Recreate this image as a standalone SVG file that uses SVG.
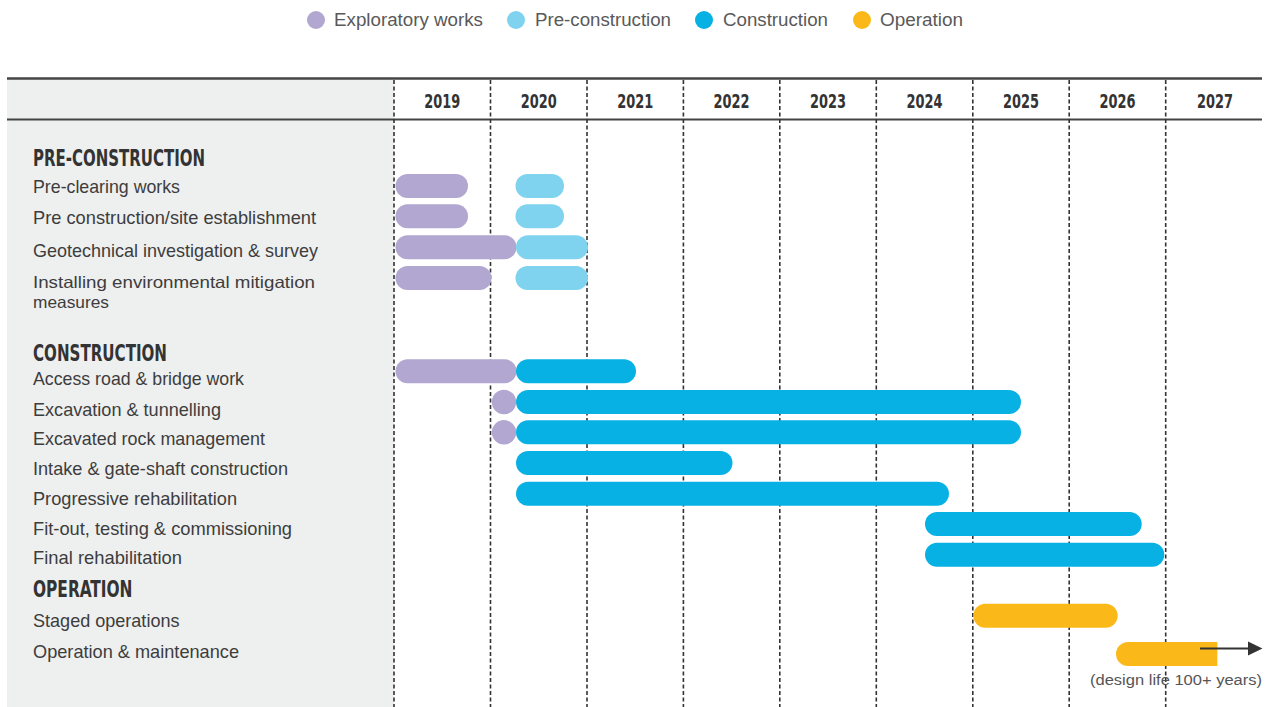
<svg xmlns="http://www.w3.org/2000/svg" width="1266" height="707" viewBox="0 0 1266 707">
<style>
.lg{font-family:"Liberation Sans",Arial,sans-serif;font-size:17.5px;fill:#595959}
.yr{font-family:"Liberation Sans Narrow","DejaVu Sans Condensed","Liberation Sans",sans-serif;font-weight:bold;font-size:20px;fill:#333;text-anchor:middle}
.hd{font-family:"Liberation Sans Narrow","DejaVu Sans Condensed","Liberation Sans",sans-serif;font-weight:bold;font-size:22.5px;fill:#333}
.lb{font-family:"Liberation Sans",Arial,sans-serif;font-size:18.5px;fill:#3d3d3d}
.lb2{font-family:"Liberation Sans",Arial,sans-serif;font-size:16.5px;fill:#3d3d3d}
.note{font-family:"Liberation Sans",Arial,sans-serif;font-size:15.5px;fill:#555}
.grid{stroke:#333;stroke-width:1.6;stroke-dasharray:4 2.5;fill:none}
.ex{fill:#b1a7d1}
.pc{fill:#7fd3ee}
.co{fill:#08b1e3}
.op{fill:#fbb919}
</style>
<rect width="1266" height="707" fill="#ffffff"/>
<g id="legend">
<circle cx="316" cy="20" r="9" class="ex"/>
<text class="lg" x="334" y="26" textLength="149" lengthAdjust="spacingAndGlyphs">Exploratory works</text>
<circle cx="516" cy="20" r="9" class="pc"/>
<text class="lg" x="535" y="26" textLength="136" lengthAdjust="spacingAndGlyphs">Pre-construction</text>
<circle cx="704" cy="20" r="9" class="co"/>
<text class="lg" x="723" y="26" textLength="105" lengthAdjust="spacingAndGlyphs">Construction</text>
<circle cx="862" cy="20" r="9" class="op"/>
<text class="lg" x="880" y="26" textLength="83" lengthAdjust="spacingAndGlyphs">Operation</text>
</g>
<g id="panel">
<rect x="7" y="78" width="387" height="629" fill="#eeefef"/>
<line x1="7" y1="78.5" x2="1262" y2="78.5" stroke="#444" stroke-width="2.5"/>
<line x1="7" y1="119.5" x2="1262" y2="119.5" stroke="#444" stroke-width="2"/>
</g>
<g id="grid">
<line class="grid" x1="394" y1="80" x2="394" y2="707"/>
<line class="grid" x1="490.5" y1="80" x2="490.5" y2="707"/>
<line class="grid" x1="587" y1="80" x2="587" y2="707"/>
<line class="grid" x1="683.4" y1="80" x2="683.4" y2="707"/>
<line class="grid" x1="779.8" y1="80" x2="779.8" y2="707"/>
<line class="grid" x1="876.3" y1="80" x2="876.3" y2="707"/>
<line class="grid" x1="972.8" y1="80" x2="972.8" y2="707"/>
<line class="grid" x1="1069.2" y1="80" x2="1069.2" y2="707"/>
<line class="grid" x1="1165.7" y1="80" x2="1165.7" y2="707"/>
</g>
<g id="years">
<text class="yr" x="442.3" y="107.5" textLength="36" lengthAdjust="spacingAndGlyphs">2019</text>
<text class="yr" x="538.8" y="107.5" textLength="36" lengthAdjust="spacingAndGlyphs">2020</text>
<text class="yr" x="635.2" y="107.5" textLength="36" lengthAdjust="spacingAndGlyphs">2021</text>
<text class="yr" x="731.6" y="107.5" textLength="36" lengthAdjust="spacingAndGlyphs">2022</text>
<text class="yr" x="828" y="107.5" textLength="36" lengthAdjust="spacingAndGlyphs">2023</text>
<text class="yr" x="924.5" y="107.5" textLength="36" lengthAdjust="spacingAndGlyphs">2024</text>
<text class="yr" x="1021" y="107.5" textLength="36" lengthAdjust="spacingAndGlyphs">2025</text>
<text class="yr" x="1117.4" y="107.5" textLength="36" lengthAdjust="spacingAndGlyphs">2026</text>
<text class="yr" x="1215" y="107.5" textLength="36" lengthAdjust="spacingAndGlyphs">2027</text>
</g>
<g id="sec-pre"><text class="hd" x="33" y="165.7" textLength="172" lengthAdjust="spacingAndGlyphs">PRE-CONSTRUCTION</text></g>
<g id="row-preclearing">
<text class="lb" x="33" y="192.7" textLength="147" lengthAdjust="spacingAndGlyphs">Pre-clearing works</text>
<rect class="ex" x="395.5" y="174" width="72.5" height="24" rx="12"/>
<rect class="pc" x="515.5" y="174" width="48.5" height="24" rx="12"/>
</g>
<g id="row-site">
<text class="lb" x="33" y="224.3" textLength="283" lengthAdjust="spacingAndGlyphs">Pre construction/site establishment</text>
<rect class="ex" x="395.5" y="204.3" width="72.5" height="24" rx="12"/>
<rect class="pc" x="515.5" y="204.3" width="48.5" height="24" rx="12"/>
</g>
<g id="row-geotech">
<text class="lb" x="33" y="257.3" textLength="285" lengthAdjust="spacingAndGlyphs">Geotechnical investigation &amp; survey</text>
<rect class="ex" x="395.5" y="235.3" width="121" height="24" rx="12"/>
<rect class="pc" x="516" y="235.3" width="72" height="24" rx="12"/>
</g>
<g id="row-mitigation">
<text class="lb2" x="33" y="288" textLength="282" lengthAdjust="spacingAndGlyphs">Installing environmental mitigation</text>
<text class="lb2" x="33" y="307.5" textLength="76" lengthAdjust="spacingAndGlyphs">measures</text>
<rect class="ex" x="395.5" y="266" width="96" height="24" rx="12"/>
<rect class="pc" x="515.5" y="266" width="72.5" height="24" rx="12"/>
</g>
<g id="sec-con"><text class="hd" x="33" y="361" textLength="134" lengthAdjust="spacingAndGlyphs">CONSTRUCTION</text></g>
<g id="row-access">
<text class="lb" x="33" y="385" textLength="211" lengthAdjust="spacingAndGlyphs">Access road &amp; bridge work</text>
<rect class="ex" x="395.5" y="359.3" width="121" height="24" rx="12"/>
<rect class="co" x="516" y="359.3" width="120" height="24" rx="12"/>
</g>
<g id="row-excavation">
<text class="lb" x="33" y="415.5" textLength="188" lengthAdjust="spacingAndGlyphs">Excavation &amp; tunnelling</text>
<circle class="ex" cx="504" cy="402" r="12.2"/>
<rect class="co" x="516" y="390" width="505" height="24" rx="12"/>
</g>
<g id="row-rock">
<text class="lb" x="33" y="445" textLength="232" lengthAdjust="spacingAndGlyphs">Excavated rock management</text>
<circle class="ex" cx="504" cy="432.3" r="12.2"/>
<rect class="co" x="516" y="420.3" width="505" height="24" rx="12"/>
</g>
<g id="row-intake">
<text class="lb" x="33" y="475" textLength="255" lengthAdjust="spacingAndGlyphs">Intake &amp; gate-shaft construction</text>
<rect class="co" x="516" y="451" width="216.5" height="24" rx="12"/>
</g>
<g id="row-progressive">
<text class="lb" x="33" y="505" textLength="204" lengthAdjust="spacingAndGlyphs">Progressive rehabilitation</text>
<rect class="co" x="516" y="481.7" width="433" height="24" rx="12"/>
</g>
<g id="row-fitout">
<text class="lb" x="33" y="535" textLength="259" lengthAdjust="spacingAndGlyphs">Fit-out, testing &amp; commissioning</text>
<rect class="co" x="925" y="512" width="216.7" height="24" rx="12"/>
</g>
<g id="row-final">
<text class="lb" x="33" y="564.3" textLength="149" lengthAdjust="spacingAndGlyphs">Final rehabilitation</text>
<rect class="co" x="925" y="542.7" width="239.3" height="24" rx="12"/>
</g>
<g id="sec-op"><text class="hd" x="33" y="597.3" textLength="99.5" lengthAdjust="spacingAndGlyphs">OPERATION</text></g>
<g id="row-staged">
<text class="lb" x="33" y="626.7" textLength="146.5" lengthAdjust="spacingAndGlyphs">Staged operations</text>
<rect class="op" x="973.3" y="603.7" width="144.4" height="24" rx="12"/>
</g>
<g id="row-om">
<text class="lb" x="33" y="658.3" textLength="206" lengthAdjust="spacingAndGlyphs">Operation &amp; maintenance</text>
<path class="op" d="M1128,642 H1217.3 V666 H1128 A12,12 0 0 1 1128,642 Z"/>
<text class="note" x="1090" y="685" textLength="172" lengthAdjust="spacingAndGlyphs">(design life 100+ years)</text>
</g>
<g id="connectors">
<line x1="1200" y1="648.5" x2="1250" y2="648.5" stroke="#333" stroke-width="2"/>
<polygon points="1248,641.5 1262.5,648.5 1248,655.5" fill="#333"/>
</g>
</svg>
